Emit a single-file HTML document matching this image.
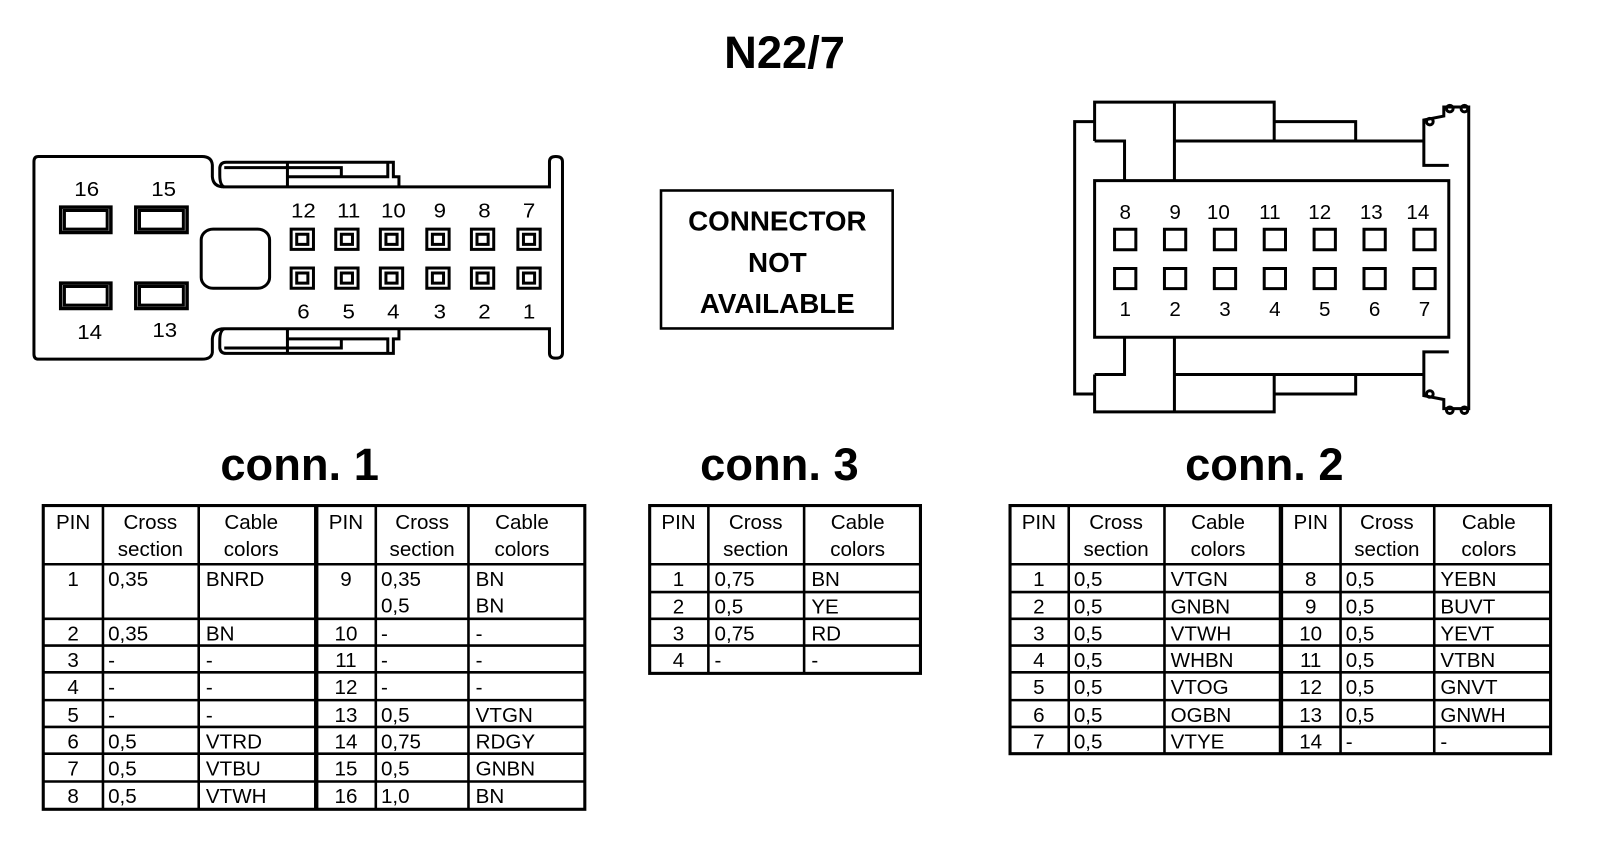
<!DOCTYPE html>
<html><head><meta charset="utf-8"><style>
html,body{margin:0;padding:0;background:#fff;}
svg{display:block;}
text{font-family:"Liberation Sans",Arial,sans-serif;fill:#000;}
.t{font-size:20px;}
.h{font-size:20px;text-anchor:middle;}
.c{text-anchor:middle;}
.ln,.ln *{fill:none;stroke:#000;stroke-width:3;vector-effect:non-scaling-stroke;}
.tb{fill:none;stroke:#000;stroke-width:2.5;}
</style></head><body>
<svg width="1600" height="844" viewBox="0 0 1554 819.7" xmlns="http://www.w3.org/2000/svg">
<rect width="1554" height="820" fill="#fff"/>
<text x="762" y="66" class="c" style="font-size:44px;font-weight:bold">N22/7</text>

<!-- conn 1 drawing -->
<g transform="translate(1.2,127.4) scale(0.361,0.328)">
<path class="ln" d="M100,75 H540 Q566,75 568,100 V135 Q570,165 600,165 H1475 V90 Q1475,75 1492,75 Q1510,75 1510,90 V657 Q1510,672 1492,672 Q1475,672 1475,657 V585 H600 Q570,585 568,615 V655 Q566,675 540,675 H100 Q88,675 88,660 V90 Q88,75 100,75 Z"/>
<path class="ln" d="M600,165 Q588,160 588,130 V108 Q590,92 605,92 H1055 V135 H1070 V165"/>
<path class="ln" d="M770,92 V165 M600,108 H915 V135 M770,135 H1040 V92"/>
<path class="ln" d="M600,585 Q588,590 588,620 V642 Q590,658 605,658 H1055 V615 H1070 V585"/>
<path class="ln" d="M770,658 V585 M600,642 H915 V615 M770,615 H1040 V658"/>
<g class="ln">
<rect x="160" y="225" width="135" height="75" style="stroke-width:3.5"/><rect x="170" y="235" width="115" height="55"/>
<rect x="362" y="225" width="138" height="75" style="stroke-width:3.5"/><rect x="372" y="235" width="118" height="55"/>
<rect x="160" y="450" width="135" height="75" style="stroke-width:3.5"/><rect x="170" y="460" width="115" height="55"/>
<rect x="362" y="450" width="138" height="75" style="stroke-width:3.5"/><rect x="372" y="460" width="118" height="55"/>
<rect x="538" y="290" width="184" height="175" rx="32"/>
</g>
<g class="ln">
<rect x="780" y="290" width="60" height="60"/><rect x="795" y="305" width="30" height="30"/>
<rect x="900" y="290" width="60" height="60"/><rect x="915" y="305" width="30" height="30"/>
<rect x="1020" y="290" width="60" height="60"/><rect x="1035" y="305" width="30" height="30"/>
<rect x="1145" y="290" width="60" height="60"/><rect x="1160" y="305" width="30" height="30"/>
<rect x="1265" y="290" width="60" height="60"/><rect x="1280" y="305" width="30" height="30"/>
<rect x="1390" y="290" width="60" height="60"/><rect x="1405" y="305" width="30" height="30"/>
<rect x="780" y="405" width="60" height="60"/><rect x="795" y="420" width="30" height="30"/>
<rect x="900" y="405" width="60" height="60"/><rect x="915" y="420" width="30" height="30"/>
<rect x="1020" y="405" width="60" height="60"/><rect x="1035" y="420" width="30" height="30"/>
<rect x="1145" y="405" width="60" height="60"/><rect x="1160" y="420" width="30" height="30"/>
<rect x="1265" y="405" width="60" height="60"/><rect x="1280" y="420" width="30" height="30"/>
<rect x="1390" y="405" width="60" height="60"/><rect x="1405" y="420" width="30" height="30"/>
</g>
<g style="font-size:60px;text-anchor:middle">
<text x="230" y="192">16</text><text x="437" y="192">15</text>
<text x="238" y="615">14</text><text x="440" y="610">13</text>
<text x="813" y="255">12</text><text x="935" y="255">11</text><text x="1055" y="255">10</text><text x="1180" y="255">9</text><text x="1300" y="255">8</text><text x="1420" y="255">7</text>
<text x="813" y="555">6</text><text x="935" y="555">5</text><text x="1055" y="555">4</text><text x="1180" y="555">3</text><text x="1300" y="555">2</text><text x="1420" y="555">1</text>
</g>
</g>

<!-- connector not available -->
<rect x="642" y="185" width="225" height="134" fill="none" stroke="#000" stroke-width="2.5"/>
<g style="font-size:27px;font-weight:bold;text-anchor:middle">
<text x="755" y="224">CONNECTOR</text><text x="755" y="264">NOT</text><text x="755" y="304">AVAILABLE</text>
</g>

<!-- conn 2 drawing -->
<g transform="translate(1005,85) scale(0.323,0.315)">
<g class="ln">
<rect x="180" y="287" width="1065" height="483"/>
<path d="M180,105 H120 V945 H180"/>
<path d="M180,165 V45 H720 V105 H965 V165 M180,165 H270 V287 M420,45 V287 M720,45 V165 M420,165 H1170"/>
<path d="M180,885 V1000 H720 V945 H965 V885 M180,885 H270 V770 M420,1000 V770 M720,1000 V885 M420,885 H1170"/>
<path d="M1170,165 V100 L1230,88 V60 H1305 V990 H1230 V962 L1170,950 V885 V815 H1245 M1170,165 V240 H1245"/>
<circle cx="1188" cy="105" r="10"/><circle cx="1248" cy="65" r="10"/><circle cx="1292" cy="65" r="10"/>
<circle cx="1188" cy="945" r="10"/><circle cx="1248" cy="995" r="10"/><circle cx="1292" cy="995" r="10"/>
<rect x="240" y="437" width="64" height="63"/><rect x="390" y="437" width="64" height="63"/><rect x="540" y="437" width="64" height="63"/><rect x="690" y="437" width="64" height="63"/><rect x="840" y="437" width="64" height="63"/><rect x="990" y="437" width="64" height="63"/><rect x="1140" y="437" width="64" height="63"/>
<rect x="240" y="558" width="64" height="62"/><rect x="390" y="558" width="64" height="62"/><rect x="540" y="558" width="64" height="62"/><rect x="690" y="558" width="64" height="62"/><rect x="840" y="558" width="64" height="62"/><rect x="990" y="558" width="64" height="62"/><rect x="1140" y="558" width="64" height="62"/>
</g>
<g style="font-size:62px;text-anchor:middle">
<text x="272" y="405">8</text><text x="422" y="405">9</text><text x="552" y="405">10</text><text x="707" y="405">11</text><text x="857" y="405">12</text><text x="1012" y="405">13</text><text x="1152" y="405">14</text>
<text x="272" y="705">1</text><text x="422" y="705">2</text><text x="572" y="705">3</text><text x="722" y="705">4</text><text x="872" y="705">5</text><text x="1022" y="705">6</text><text x="1172" y="705">7</text>
</g>
</g>

<!-- headings -->
<g style="font-size:44px;font-weight:bold;text-anchor:middle">
<text x="291" y="466">conn. 1</text><text x="757" y="466">conn. 3</text><text x="1228" y="466">conn. 2</text>
</g>

<!-- table 1 -->
<g class="tb">
<rect x="42" y="491" width="526" height="295" stroke-width="3"/>
<path d="M100,491V786 M193,491V786 M308,491V786 M365,491V786 M455,491V786"/>
<path d="M306,491V786" stroke-width="2"/>
<path d="M42,548H568 M42,601H568 M42,627H568 M42,653H568 M42,680H568 M42,706H568 M42,732H568 M42,759H568"/>
</g>
<g class="h">
<text x="71" y="514">PIN</text><text x="146" y="514">Cross</text><text x="146" y="540">section</text><text x="244" y="514">Cable</text><text x="244" y="540">colors</text>
<text x="336" y="514">PIN</text><text x="410" y="514">Cross</text><text x="410" y="540">section</text><text x="507" y="514">Cable</text><text x="507" y="540">colors</text>
</g>
<g class="t">
<text x="71" y="569" class="c">1</text><text x="105" y="569">0,35</text><text x="200" y="569">BNRD</text>
<text x="336" y="569" class="c">9</text><text x="370" y="569">0,35</text><text x="370" y="595">0,5</text><text x="462" y="569">BN</text><text x="462" y="595">BN</text>
<text x="71" y="622" class="c">2</text><text x="105" y="622">0,35</text><text x="200" y="622">BN</text>
<text x="336" y="622" class="c">10</text><text x="370" y="622">-</text><text x="462" y="622">-</text>
<text x="71" y="648" class="c">3</text><text x="105" y="648">-</text><text x="200" y="648">-</text>
<text x="336" y="648" class="c">11</text><text x="370" y="648">-</text><text x="462" y="648">-</text>
<text x="71" y="674" class="c">4</text><text x="105" y="674">-</text><text x="200" y="674">-</text>
<text x="336" y="674" class="c">12</text><text x="370" y="674">-</text><text x="462" y="674">-</text>
<text x="71" y="701" class="c">5</text><text x="105" y="701">-</text><text x="200" y="701">-</text>
<text x="336" y="701" class="c">13</text><text x="370" y="701">0,5</text><text x="462" y="701">VTGN</text>
<text x="71" y="727" class="c">6</text><text x="105" y="727">0,5</text><text x="200" y="727">VTRD</text>
<text x="336" y="727" class="c">14</text><text x="370" y="727">0,75</text><text x="462" y="727">RDGY</text>
<text x="71" y="753" class="c">7</text><text x="105" y="753">0,5</text><text x="200" y="753">VTBU</text>
<text x="336" y="753" class="c">15</text><text x="370" y="753">0,5</text><text x="462" y="753">GNBN</text>
<text x="71" y="780" class="c">8</text><text x="105" y="780">0,5</text><text x="200" y="780">VTWH</text>
<text x="336" y="780" class="c">16</text><text x="370" y="780">1,0</text><text x="462" y="780">BN</text>
</g>

<!-- table 3 -->
<g class="tb">
<rect x="631" y="491" width="263" height="163" stroke-width="3"/>
<path d="M688,491V654 M781,491V654"/>
<path d="M631,548H894 M631,575H894 M631,601H894 M631,627H894"/>
</g>
<g class="h">
<text x="659" y="514">PIN</text><text x="734" y="514">Cross</text><text x="734" y="540">section</text><text x="833" y="514">Cable</text><text x="833" y="540">colors</text>
</g>
<g class="t">
<text x="659" y="569" class="c">1</text><text x="694" y="569">0,75</text><text x="788" y="569">BN</text>
<text x="659" y="596" class="c">2</text><text x="694" y="596">0,5</text><text x="788" y="596">YE</text>
<text x="659" y="622" class="c">3</text><text x="694" y="622">0,75</text><text x="788" y="622">RD</text>
<text x="659" y="648" class="c">4</text><text x="694" y="648">-</text><text x="788" y="648">-</text>
</g>

<!-- table 2 -->
<g class="tb">
<rect x="981" y="491" width="525" height="241" stroke-width="3"/>
<path d="M1038,491V732 M1131,491V732 M1245,491V732 M1302,491V732 M1393,491V732"/>
<path d="M1243,491V732" stroke-width="2"/>
<path d="M981,548H1506 M981,575H1506 M981,601H1506 M981,627H1506 M981,653H1506 M981,680H1506 M981,706H1506"/>
</g>
<g class="h">
<text x="1009" y="514">PIN</text><text x="1084" y="514">Cross</text><text x="1084" y="540">section</text><text x="1183" y="514">Cable</text><text x="1183" y="540">colors</text>
<text x="1273" y="514">PIN</text><text x="1347" y="514">Cross</text><text x="1347" y="540">section</text><text x="1446" y="514">Cable</text><text x="1446" y="540">colors</text>
</g>
<g class="t">
<text x="1009" y="569" class="c">1</text><text x="1043" y="569">0,5</text><text x="1137" y="569">VTGN</text>
<text x="1273" y="569" class="c">8</text><text x="1307" y="569">0,5</text><text x="1399" y="569">YEBN</text>
<text x="1009" y="596" class="c">2</text><text x="1043" y="596">0,5</text><text x="1137" y="596">GNBN</text>
<text x="1273" y="596" class="c">9</text><text x="1307" y="596">0,5</text><text x="1399" y="596">BUVT</text>
<text x="1009" y="622" class="c">3</text><text x="1043" y="622">0,5</text><text x="1137" y="622">VTWH</text>
<text x="1273" y="622" class="c">10</text><text x="1307" y="622">0,5</text><text x="1399" y="622">YEVT</text>
<text x="1009" y="648" class="c">4</text><text x="1043" y="648">0,5</text><text x="1137" y="648">WHBN</text>
<text x="1273" y="648" class="c">11</text><text x="1307" y="648">0,5</text><text x="1399" y="648">VTBN</text>
<text x="1009" y="674" class="c">5</text><text x="1043" y="674">0,5</text><text x="1137" y="674">VTOG</text>
<text x="1273" y="674" class="c">12</text><text x="1307" y="674">0,5</text><text x="1399" y="674">GNVT</text>
<text x="1009" y="701" class="c">6</text><text x="1043" y="701">0,5</text><text x="1137" y="701">OGBN</text>
<text x="1273" y="701" class="c">13</text><text x="1307" y="701">0,5</text><text x="1399" y="701">GNWH</text>
<text x="1009" y="727" class="c">7</text><text x="1043" y="727">0,5</text><text x="1137" y="727">VTYE</text>
<text x="1273" y="727" class="c">14</text><text x="1307" y="727">-</text><text x="1399" y="727">-</text>
</g>
</svg>
</body></html>
